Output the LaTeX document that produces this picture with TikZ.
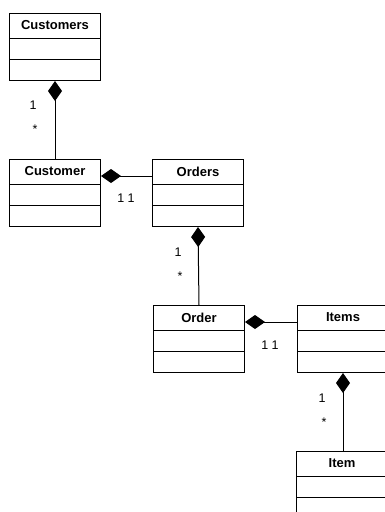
\documentclass[tikz,border=0pt]{standalone}
\usepackage{fontspec}
\setmainfont{Liberation Sans}
\usetikzlibrary{arrows.meta}
\tikzset{
  cls/.style={draw, line width=1pt, minimum width=91pt, minimum height=67pt, inner sep=0pt, anchor=north west},
  ctitle/.style={font=\fontsize{13}{14}\selectfont\bfseries, inner sep=0pt},
  mult/.style={font=\fontsize{12.5}{14}\selectfont, inner sep=0pt},
  comp/.style={line width=1pt, {Diamond[length=20pt,width=14pt]}-},
  sep/.style={line width=1pt}
}
\newcommand\umlclass[4]{%
  \node[cls] (#1) at (#2,#3) {};
  \draw[sep] ([yshift=-25pt]#1.north west) -- ([yshift=-25pt]#1.north east);
  \draw[sep] ([yshift=-46pt]#1.north west) -- ([yshift=-46pt]#1.north east);
  \node[ctitle] (#1-t) at ([yshift=-12.5pt]#1.north) {#4};
}
\begin{document}
\begin{tikzpicture}[x=1pt,y=-1pt]
\useasboundingbox (0,0) rectangle (385,512);
\clip (0,0) rectangle (385,512);
\umlclass{customers}{9}{13}{Customers}
\umlclass{customer}{9}{159}{Customer}
\umlclass{orders}{152}{159}{Orders}
\umlclass{order}{153}{305}{Order}
\umlclass{items}{297}{305}{Items}
\umlclass{item}{296}{451}{Item}
% compositions
\draw[comp] (customers.south) -- (customer.north);
\draw[comp] ([yshift=-17pt]customer.north east) -- ([yshift=-17pt]orders.north west);
\draw[comp] (orders.south) -- (order.north);
\draw[comp] ([yshift=-17pt]order.north east) -- ([yshift=-17pt]items.north west);
\draw[comp] (items.south) -- (items.south |- item.north);
% multiplicities
\node[mult] (m1a) at (33,105) {1};
\node[mult] (m1b) at (35,129) {*};
\node[mult] (m2) at (126,198) {1 1};
\node[mult] (m3a) at (178,252) {1};
\node[mult] (m3b) at (180,276) {*};
\node[mult] (m4) at (270,345) {1 1};
\node[mult] (m5a) at (322,398) {1};
\node[mult] (m5b) at (324,422) {*};
\end{tikzpicture}
\end{document}
